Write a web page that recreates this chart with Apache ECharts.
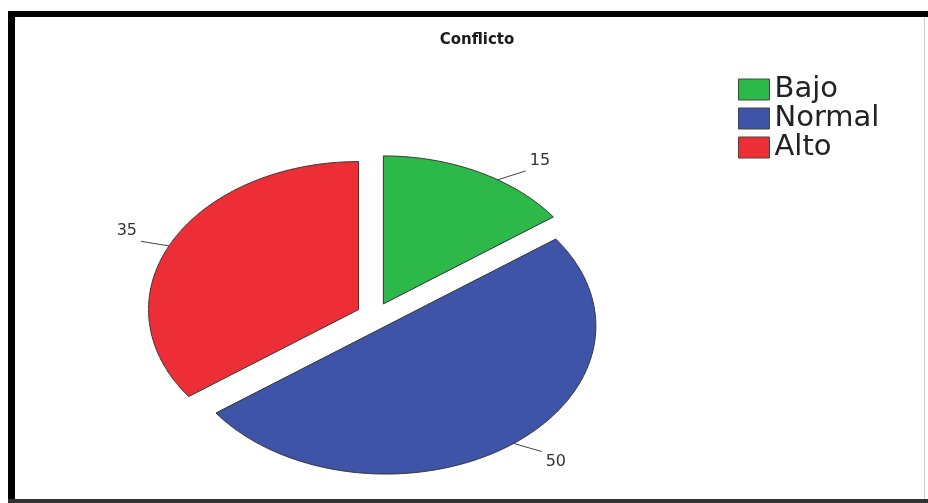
<!DOCTYPE html>
<html>
<head>
<meta charset="utf-8">
<script src="https://cdn.jsdelivr.net/npm/echarts@6/dist/echarts.min.js"></script>
<style>
  html, body { margin: 0; padding: 0; background: #ffffff; }
  #chart { width: 928px; height: 503px; }
</style>
</head>
<body>
<div id="chart"></div>
<script>
const titleText = 'Conflicto';
const categories = ['Bajo', 'Normal', 'Alto'];
const values = [15, 50, 35];
const colors = ['#2db84a', '#3d54a8', '#ee2e37'];

// Elliptical pie geometry (drawing parameters, not data)
const CX = 375, CY = 315.5, R = 148, SX = 1.419, EXPLODE = 13;

function renderItem(params, api) {
  const i = params.seriesIndex;
  const total = values.reduce((s, v) => s + v, 0);
  let start = 0;
  for (let k = 0; k < i; k++) start += values[k];
  const v = api.value(0);
  const a0 = start / total * 360;
  const a1 = (start + v) / total * 360;
  const mid = (a0 + a1) / 2;
  const rad = d => d * Math.PI / 180;
  const ox = CX + SX * EXPLODE * Math.sin(rad(mid));
  const oy = CY - EXPLODE * Math.cos(rad(mid));
  const pts = [[ox, oy]];
  const steps = Math.max(2, Math.ceil((a1 - a0) * 2));
  for (let s = 0; s <= steps; s++) {
    const t = a0 + (a1 - a0) * s / steps;
    pts.push([ox + SX * R * Math.sin(rad(t)), oy - R * Math.cos(rad(t))]);
  }
  const color = api.visual('color');
  // label anchor: slightly toward the slice's outer side for a spread-out look
  const la = mid + (v / total < 0.2 ? 6 : -1.5);
  const ex = ox + SX * R * Math.sin(rad(la));
  const ey = oy - R * Math.cos(rad(la));
  const sg = Math.sin(rad(mid)) >= 0 ? 1 : -1;
  const cg = Math.cos(rad(mid)) >= 0 ? 1 : -1;
  const lx = ex + sg * 28;
  const ly = ey - Math.cos(rad(mid)) * 10;
  return {
    type: 'group',
    children: [
      {
        type: 'polygon',
        shape: { points: pts },
        style: { fill: color, stroke: '#333333', lineWidth: 1 }
      },
      {
        type: 'line',
        shape: { x1: ex, y1: ey, x2: lx, y2: ly },
        style: { stroke: '#444444', lineWidth: 1 }
      },
      {
        type: 'text',
        x: lx + sg * 4,
        y: ly - cg * 10,
        style: {
          text: String(v),
          fill: '#333333',
          font: '16px "DejaVu Sans"',
          align: sg > 0 ? 'left' : 'right',
          verticalAlign: 'middle'
        }
      }
    ]
  };
}

const chart = echarts.init(document.getElementById('chart'), null, { renderer: 'canvas' });
chart.setOption({
  animation: false,
  backgroundColor: '#ffffff',
  color: colors,
  title: {
    text: titleText,
    left: 472,
    textAlign: 'center',
    top: 28,
    textStyle: { fontFamily: 'DejaVu Sans', fontWeight: 'bold', fontSize: 15, color: '#1a1a1a' }
  },
  legend: {
    orient: 'vertical',
    left: 738,
    top: 75,
    padding: 0,
    icon: 'rect',
    itemWidth: 31,
    itemHeight: 21,
    itemGap: 0,
    data: categories,
    textStyle: { fontFamily: 'DejaVu Sans', fontSize: 29, color: '#222222', lineHeight: 28, padding: [0, 0, 0, 0] },
    itemStyle: { borderColor: '#444444', borderWidth: 1 }
  },
  graphic: [
    { type: 'rect', shape: { x: 8, y: 11, width: 920, height: 6 }, style: { fill: '#000000' } },
    { type: 'rect', shape: { x: 8, y: 11, width: 7, height: 492 }, style: { fill: '#000000' } },
    { type: 'rect', shape: { x: 8, y: 499, width: 920, height: 4 }, style: { fill: '#333333' } },
    { type: 'rect', shape: { x: 924, y: 17, width: 1, height: 482 }, style: { fill: '#cccccc' } }
  ],
  series: categories.map((name, i) => ({
    type: 'custom',
    name: name,
    coordinateSystem: 'none',
    itemStyle: { color: colors[i], borderColor: '#333333', borderWidth: 1 },
    data: [[values[i]]],
    renderItem: renderItem
  }))
});
</script>
</body>
</html>
